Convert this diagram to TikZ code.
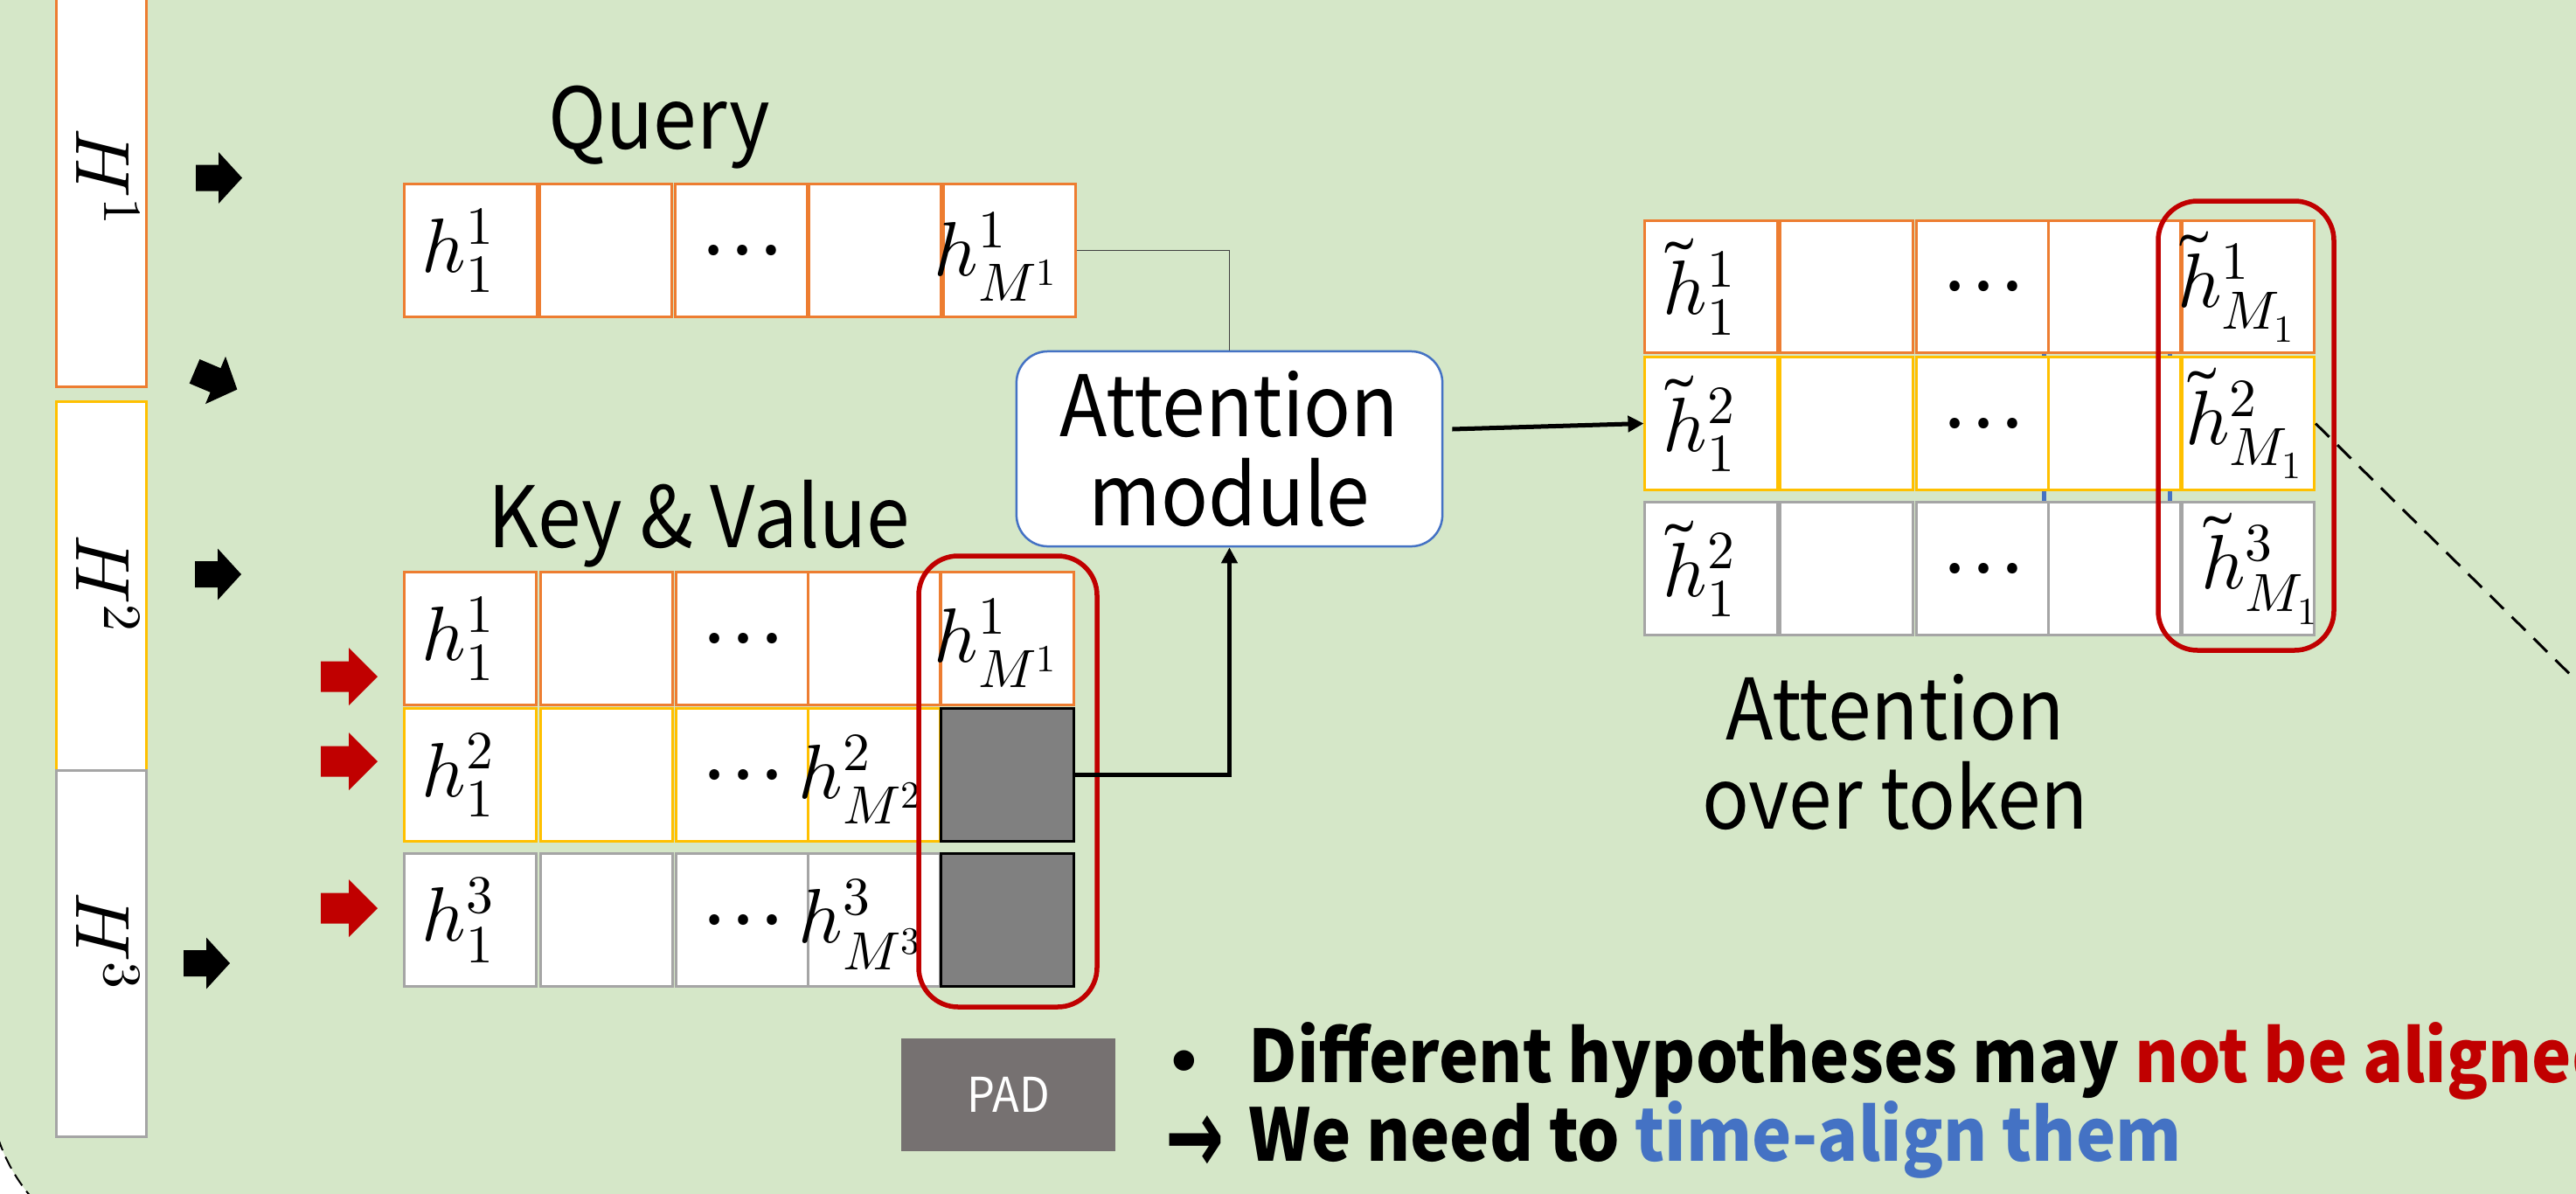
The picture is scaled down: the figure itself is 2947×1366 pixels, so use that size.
\documentclass[tikz,border=0pt]{standalone}
\usepackage{fontspec}
\usepackage{unicode-math}
\newfontfamily\jpfont{Noto Sans CJK JP}[FakeStretch=0.92]
\newfontfamily\dotfont{Noto Sans CJK JP}
\newfontfamily\symfont{DejaVu Sans}
\usetikzlibrary{arrows.meta}
\definecolor{bggreen}{RGB}{213,231,200}
\definecolor{corange}{RGB}{237,125,49}
\definecolor{cyellow}{RGB}{255,192,0}
\definecolor{cgray}{RGB}{165,165,165}
\definecolor{cblue}{RGB}{68,114,196}
\definecolor{cred}{RGB}{192,0,0}
\definecolor{padgray}{RGB}{128,128,128}
\definecolor{padbox}{RGB}{118,113,113}
\tikzset{
  cellbox/.style={draw, fill=white, line width=0.03cm, minimum width=1.51cm, minimum height=1.51cm, inner sep=0pt},
  ocell/.style={cellbox, draw=corange},
  ycell/.style={cellbox, draw=cyellow},
  gcell/.style={cellbox, draw=cgray},
  padcell/.style={cellbox, draw=black, fill=padgray},
  hbox/.style={draw, fill=white, line width=0.03cm, minimum width=1.02cm, inner sep=0pt},
  mtext/.style={inner sep=0pt, font=\fontsize{25}{28}\selectfont},
  dotstext/.style={inner sep=0pt, font=\dotfont\fontsize{25}{28}\selectfont},
  lbl/.style={inner sep=0pt, font=\jpfont\fontsize{27.6}{29}\selectfont},
  redframe/.style={draw=cred, line width=0.055cm, rounded corners=0.45cm},
  conn/.style={line width=0.05cm, -{Triangle[length=0.18cm,width=0.18cm]}},
  blkarrow/.pic={\fill[black] (-26,-15) -- (0,-15) -- (0,-29.5) -- (27,0) -- (0,29.5) -- (0,15) -- (-26,15) -- cycle;},
  redarrow/.pic={\fill[cred] (-32,-17.5) -- (0,-17.5) -- (0,-33) -- (33,0) -- (0,33) -- (0,17.5) -- (-32,17.5) -- cycle;},
}
\begin{document}
\begin{tikzpicture}[x=0.01cm,y=-0.01cm]
\useasboundingbox (0,0) rectangle (2947,1366);
% background
\begin{scope}
\clip (0,0) rectangle (2947,1366);
\fill[white] (0,0) rectangle (2947,1366);
\draw[fill=bggreen, line width=0.02cm, dash pattern=on 0.15cm off 0.08cm, rounded corners=2cm] (-12,-600) rectangle (3700,1440);
\end{scope}

% hypothesis boxes
\node[hbox, draw=corange, minimum height=4.62cm] (H1) at (116,211) {};
\node[hbox, draw=cyellow, minimum height=4.22cm] (H2) at (116,671) {};
\node[hbox, draw=cgray, minimum height=4.18cm] (H3) at (116,1091) {};
\node[mtext, rotate=-90] (H1t) at (124,203) {$H^1$};
\node[mtext, rotate=-90] (H2t) at (124,668) {$H^2$};
\node[mtext, rotate=-90] (H3t) at (124,1077) {$H^3$};

% block arrows
\pic at (250,203.5) {blkarrow};
\pic[rotate=-23] at (246.5,435) {blkarrow};
\pic at (249,657) {blkarrow};
\pic at (236,1102) {blkarrow};
\pic at (399,774) {redarrow};
\pic at (399,871) {redarrow};
\pic at (399,1039) {redarrow};

% labels
\node[lbl, anchor=base] (qlbl) at (754,170) {Query};
\node[lbl, anchor=base] (kvlbl) at (800,626) {Key \& Value};

% query row
\node[ocell] (q1) at (538.5,286.5) {};
\node[ocell] (q2) at (693,286.5) {};
\node[ocell] (q3) at (848,286.5) {};
\node[ocell] (q4) at (1001,286.5) {};
\node[ocell] (q5) at (1155,286.5) {};
\node[mtext] (q1t) at ([xshift=-0.14cm]q1.center) {$h^1_1$};
\node[dotstext] (q3t) at (q3.center) {⋯};
\node[mtext] (q5t) at ([xshift=-0.15cm,yshift=-0.07cm]q5.center) {$h^1_{M^1}$};

% key & value rows
\node[ocell] (k11) at (538,730.5) {};
\node[ocell] (k12) at (694,730.5) {};
\node[ocell] (k13) at (849,730.5) {};
\node[ocell] (k14) at (1000,730.5) {};
\node[ocell] (k15) at (1152.5,730.5) {};
\node[ycell] (k21) at (538,886.5) {};
\node[ycell] (k22) at (694,886.5) {};
\node[ycell] (k23) at (849,886.5) {};
\node[ycell] (k24) at (1000,886.5) {};
\node[padcell] (k25) at (1152.5,886.5) {};
\node[gcell] (k31) at (538,1052.5) {};
\node[gcell] (k32) at (694,1052.5) {};
\node[gcell] (k33) at (849,1052.5) {};
\node[gcell] (k34) at (1000,1052.5) {};
\node[padcell] (k35) at (1152.5,1052.5) {};
\node[mtext] (k11t) at ([xshift=-0.14cm]k11.center) {$h^1_1$};
\node[dotstext] (k13t) at (k13.center) {⋯};
\node[mtext] (k15t) at ([xshift=-0.13cm,yshift=-0.05cm]k15.center) {$h^1_{M^1}$};
\node[mtext] (k21t) at ([xshift=-0.14cm]k21.center) {$h^2_1$};
\node[dotstext] (k23t) at (k23.center) {⋯};
\node[mtext] (k24t) at ([xshift=-0.15cm,yshift=-0.05cm]k24.center) {$h^2_{M^2}$};
\node[mtext] (k31t) at ([xshift=-0.14cm]k31.center) {$h^3_1$};
\node[dotstext] (k33t) at (k33.center) {⋯};
\node[mtext] (k34t) at ([xshift=-0.15cm,yshift=-0.05cm]k34.center) {$h^3_{M^3}$};

% output grid
\draw[cblue, line width=0.05cm] (2338,400) -- (2338,578);
\draw[cblue, line width=0.05cm] (2482,400) -- (2482,578);
\node[ocell] (o11) at (1957.5,328) {};
\node[ocell] (o12) at (2112.5,328) {};
\node[ocell] (o13) at (2268,328) {};
\node[ocell] (o14) at (2419,328) {};
\node[ocell] (o15) at (2572,328) {};
\node[ycell] (o21) at (1957.5,484.5) {};
\node[ycell] (o22) at (2112.5,484.5) {};
\node[ycell] (o23) at (2268,484.5) {};
\node[ycell] (o24) at (2419,484.5) {};
\node[ycell] (o25) at (2572,484.5) {};
\node[gcell] (o31) at (1957.5,650.5) {};
\node[gcell] (o32) at (2112.5,650.5) {};
\node[gcell] (o33) at (2268,650.5) {};
\node[gcell] (o34) at (2419,650.5) {};
\node[gcell] (o35) at (2572,650.5) {};
\node[mtext] (o11t) at ([xshift=-0.13cm]o11.center) {$\tilde{h}^1_1$};
\node[dotstext] (o13t) at (o13.center) {⋯};
\node[mtext] (o15t) at ([xshift=-0.13cm]o15.center) {$\tilde{h}^1_{M_1}$};
\node[mtext] (o21t) at ([xshift=-0.13cm]o21.center) {$\tilde{h}^2_1$};
\node[dotstext] (o23t) at (o23.center) {⋯};
\node[mtext] (o25t) at ([xshift=-0.04cm]o25.center) {$\tilde{h}^2_{M_1}$};
\node[mtext] (o31t) at ([xshift=-0.13cm]o31.center) {$\tilde{h}^2_1$};
\node[dotstext] (o33t) at (o33.center) {⋯};
\node[mtext] (o35t) at ([xshift=0.14cm]o35.center) {$\tilde{h}^3_{M_1}$};

% red frames
\draw[redframe] (1051,636) rectangle (1255,1152);
\draw[redframe] (2469,230) rectangle (2670,744);

% attention module
\node[lbl, draw=cblue, fill=white, line width=0.025cm, rounded corners=0.36cm, minimum width=4.87cm, minimum height=2.23cm, align=center] (att) at (1406.5,513.5) {Attention\\module};

% connectors
\draw[line width=0.015cm, draw=black!75] (q5.east) -| (att.north);
\draw[conn] (k25.east) -| (att.south);
\draw[conn] ([shift={(10,-22.5)}]att.east) -- (o21.west);
\coordinate (dend) at (3100,929);
\draw[line width=0.03cm, dash pattern=on 0.22cm off 0.13cm] (o25.east) -- (dend);

% output label
\node[lbl, align=center, anchor=north] (olbl) at (2168,771) {Attention\\over token};

% PAD legend
\node[fill=padbox, minimum width=2.45cm, minimum height=1.29cm, inner sep=0pt, text=white, font=\jpfont\fontsize{15.6}{18}\selectfont] (pad) at (1153.5,1252.5) {PAD};

% bullet text
\node[inner sep=0pt, anchor=north west, align=left, font=\jpfont\bfseries\fontsize{23.6}{25.6}\selectfont] (note) at (1333,1169) {\makebox[0.95cm][l]{\symfont\fontsize{19}{19}\selectfont •}Different hypotheses may \textcolor{cred}{not be aligned}\\\makebox[0.95cm][l]{\symfont\bfseries\fontsize{24}{24}\selectfont\raisebox{-0.14cm}{\scalebox{0.95}[1.45]{→}}}We need to \textcolor{cblue}{time-align them}};
\end{tikzpicture}
\end{document}
